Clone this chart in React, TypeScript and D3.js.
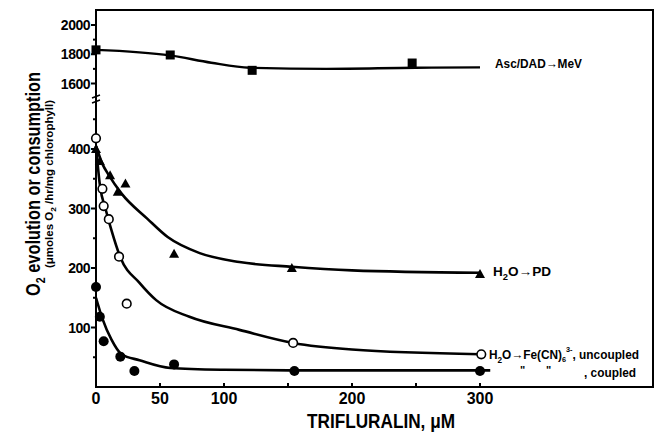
import React from 'react';
import * as d3 from 'd3';

// measured points (x = trifluralin µM, y = µmoles O2/hr/mg chl)
const ascPoints = [[0, 1830], [58, 1795], [122, 1690], [247, 1740]];
const pdPoints = [[0, 400], [3, 380], [11, 356], [17, 328], [23, 342], [61, 224], [153, 200], [300, 190]];
const uncoupledPoints = [[0, 418], [5, 333], [6, 304], [10, 282], [18, 219], [24, 140], [154, 74], [301, 55]];
const coupledPoints = [[0, 168], [3, 118], [6, 77], [19, 51], [30, 27], [61, 38], [155, 27], [300, 27]];

// hand drawn fitted curves
const ascCurve = [[0, 1830], [58, 1792], [90, 1742], [120, 1708], [180, 1700], [250, 1708], [300, 1710]];
const pdCurve = [[0, 405], [5, 375], [10, 356], [20, 325], [40, 283], [56, 252], [81, 225], [112, 210], [153, 202], [200, 196], [300, 192]];
const uncoupledCurve = [[0, 405], [3, 340], [8, 295], [12, 264], [19, 218], [34, 175], [47, 146], [73, 118], [112, 96], [154, 74], [200, 63], [300, 55]];
const coupledCurve = [[0, 150], [5, 115], [12, 80], [20, 55], [34, 45], [58, 32], [100, 29], [151, 28], [308, 28]];

const xTicks = [0, 50, 100, 200, 300];
const xMinor = [150, 250];
const yLowTicks = [100, 200, 300, 400];
const yLowMinor = [50, 150, 250, 350, 450];
const yHighTicks = [1600, 1800, 2000];
const yHighMinor = [1700, 1900];

const font = '"Liberation Sans", Arial, sans-serif';

const App = () => {
    const left = 96, right = 653, top = 10, bottom = 387;

    const x = d3.scaleLinear().domain([0, 300]).range([left, 480]);
    const yLow = d3.scaleLinear().domain([0, 400]).range([bottom, 149]);
    const yHigh = d3.scaleLinear().domain([1600, 2000]).range([83.5, 25]);

    const lineLow = d3.line<number[]>().x(d => x(d[0])).y(d => yLow(d[1])).curve(d3.curveMonotoneX);
    const lineHigh = d3.line<number[]>().x(d => x(d[0])).y(d => yHigh(d[1])).curve(d3.curveMonotoneX);

    const tri = (cx: number, cy: number, s = 5) =>
        `M${cx},${cy - s} L${cx + s},${cy + s * 0.8} L${cx - s},${cy + s * 0.8} Z`;

    return (
        <svg width={655} height={436} style={{position: 'absolute', left: 0, top: 0, background: '#fff'}}
             fontFamily={font}>
            {/* frame */}
            <rect x={left} y={top} width={right - left} height={bottom - top} fill="none" stroke="#000" strokeWidth={2}/>

            {/* y axis break */}
            <path d={`M${left - 4},${98} L${left + 4},${95} M${left - 4},${103} L${left + 4},${100}`} stroke="#000" strokeWidth={1.6}/>

            {/* y ticks, lower segment */}
            {yLowTicks.map(t => (
                <g key={'yl' + t}>
                    <line x1={left - 5} x2={left} y1={yLow(t)} y2={yLow(t)} stroke="#000" strokeWidth={2}/>
                    <text x={left - 6} y={yLow(t)} dy="0.36em" textAnchor="end" fontSize={14} fontWeight="bold"
                          letterSpacing={-0.5}>{t}</text>
                </g>
            ))}
            {yLowMinor.map(t => (
                <line key={'ylm' + t} x1={left - 3} x2={left} y1={yLow(t)} y2={yLow(t)} stroke="#000" strokeWidth={2}/>
            ))}
            {yHighTicks.map(t => (
                <g key={'yh' + t}>
                    <line x1={left - 5} x2={left} y1={yHigh(t)} y2={yHigh(t)} stroke="#000" strokeWidth={2}/>
                    <text x={left - 6} y={yHigh(t)} dy="0.36em" textAnchor="end" fontSize={14} fontWeight="bold"
                          letterSpacing={-0.5}>{t}</text>
                </g>
            ))}
            {yHighMinor.map(t => (
                <line key={'yhm' + t} x1={left - 3} x2={left} y1={yHigh(t)} y2={yHigh(t)} stroke="#000" strokeWidth={2}/>
            ))}

            {/* x ticks */}
            {xTicks.map(t => (
                <g key={'x' + t}>
                    <line x1={x(t)} x2={x(t)} y1={bottom} y2={bottom - 4} stroke="#000" strokeWidth={2}/>
                    <text x={x(t)} y={bottom + 17} textAnchor="middle" fontSize={16} fontWeight="bold">{t}</text>
                </g>
            ))}
            {xMinor.map(t => (
                <line key={'xm' + t} x1={x(t)} x2={x(t)} y1={bottom} y2={bottom - 4} stroke="#000" strokeWidth={2}/>
            ))}

            {/* curves */}
            <path d={lineHigh(ascCurve) || ''} fill="none" stroke="#000" strokeWidth={2.4}/>
            <path d={lineLow(pdCurve) || ''} fill="none" stroke="#000" strokeWidth={2.6}/>
            <path d={lineLow(uncoupledCurve) || ''} fill="none" stroke="#000" strokeWidth={2.6}/>
            <path d={lineLow(coupledCurve) || ''} fill="none" stroke="#000" strokeWidth={2.6}/>

            {/* markers */}
            {ascPoints.map((d, i) => (
                <rect key={'a' + i} x={x(d[0]) - 4.5} y={yHigh(d[1]) - 4.5} width={9} height={9} fill="#000"/>
            ))}
            {pdPoints.map((d, i) => (
                <path key={'p' + i} d={tri(x(d[0]), yLow(d[1]))} fill="#000"/>
            ))}
            {uncoupledPoints.map((d, i) => (
                <circle key={'u' + i} cx={x(d[0])} cy={yLow(d[1])} r={4.3} fill="#fff" stroke="#000" strokeWidth={1.6}/>
            ))}
            {coupledPoints.map((d, i) => (
                <circle key={'c' + i} cx={x(d[0])} cy={yLow(d[1])} r={5} fill="#000"/>
            ))}

            {/* series labels */}
            <text x={495} y={68} fontSize={13} fontWeight="bold" textLength={87} lengthAdjust="spacingAndGlyphs">Asc/DAD→MeV</text>
            <text x={493} y={276} fontSize={13} fontWeight="bold" textLength={58} lengthAdjust="spacingAndGlyphs">
                H<tspan fontSize={9} dy={4}>2</tspan><tspan dy={-4}>O→PD</tspan>
            </text>
            <text x={489} y={359} fontSize={13} fontWeight="bold" textLength={150} lengthAdjust="spacingAndGlyphs">
                H<tspan fontSize={9} dy={4}>2</tspan><tspan dy={-4}>O→Fe(CN)</tspan><tspan fontSize={8} dy={3}>6</tspan><tspan
                fontSize={8} dy={-10}>3-</tspan><tspan dy={7}>, uncoupled</tspan>
            </text>
            <text x={520} y={374} fontSize={11} fontWeight="bold">"</text>
            <text x={546} y={374} fontSize={11} fontWeight="bold">"</text>
            <text x={584} y={377} fontSize={13} fontWeight="bold" textLength={52} lengthAdjust="spacingAndGlyphs">, coupled</text>

            {/* axis titles */}
            <text x={381} y={428} textAnchor="middle" fontSize={20} fontWeight="bold" textLength={148}
                  lengthAdjust="spacingAndGlyphs">TRIFLURALIN, μM</text>
            <text transform="translate(40,184) rotate(-90)" textAnchor="middle" fontSize={20} textLength={224}
                  lengthAdjust="spacingAndGlyphs" fontWeight="bold">
                O<tspan fontSize={13} dy={5}>2</tspan><tspan dy={-5}> evolution or consumption</tspan>
            </text>
            <text transform="translate(53,184) rotate(-90)" textAnchor="middle" fontSize={11} textLength={168}
                  lengthAdjust="spacingAndGlyphs" fontWeight="bold">
                (μmoles O<tspan fontSize={8} dy={3}>2</tspan><tspan dy={-3}> /hr/mg chlorophyll)</tspan>
            </text>
        </svg>
    );
};

export default App;
